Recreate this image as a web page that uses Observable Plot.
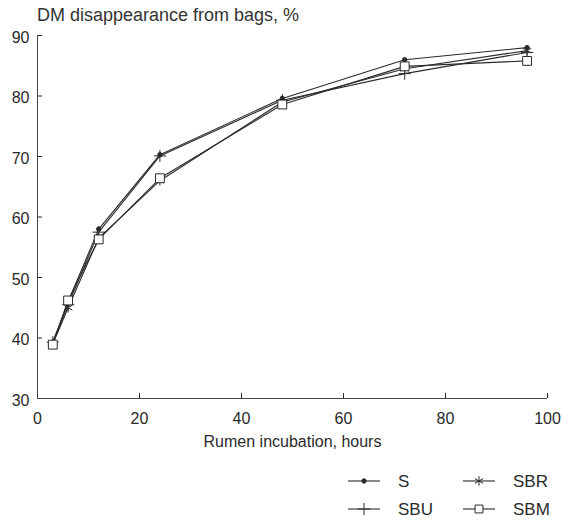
<!DOCTYPE html>
<html><head><meta charset="utf-8">
<script src="https://cdn.jsdelivr.net/npm/d3@7"></script>
<script src="https://cdn.jsdelivr.net/npm/@observablehq/plot@0.6"></script>
<style>
body{margin:0;background:#fff;font-family:"Liberation Sans",Arial,sans-serif;}
#wrap{position:relative;width:563px;height:522px;overflow:hidden;background:#fff;}
#title{position:absolute;left:37px;top:5px;font-size:18px;color:#333;white-space:nowrap;}
#wrap svg{position:absolute;left:0;top:0;}
</style></head><body>
<div id="wrap"><div id="chart"></div><div id="title">DM disappearance from bags, %</div></div>
<script>
// Data
const hours = [3, 6, 12, 24, 48, 72, 96];
const S   = [39.3, 46.0, 58.0, 70.3, 79.6, 86.0, 88.0];
const SBR = [39.0, 45.0, 56.5, 66.0, 79.0, 84.5, 87.5];
const SBU = [39.3, 45.5, 57.5, 70.1, 79.3, 83.7, 87.2];
const SBM = [38.9, 46.2, 56.3, 66.4, 78.6, 84.9, 85.8];
const seriesNames = ["S", "SBR", "SBU", "SBM"];
const seriesValues = [S, SBR, SBU, SBM];
const seriesSymbols = ["circle", "asterisk", "plus", "square"];
const xTicks = [0, 20, 40, 60, 80, 100];
const yTicks = [30, 40, 50, 60, 70, 80, 90];
const xLabel = "Rumen incubation, hours";

const ink = "#2a2a2a";
const rows = [];
seriesNames.forEach((name, i) => hours.forEach((h, j) => rows.push({series: name, hour: h, value: seriesValues[i][j]})));

const symStyle = {
  S: {r: 2.2, fill: ink, stroke: ink},
  SBR: {r: 4.5, fill: "none", stroke: ink},
  SBU: {r: 4, fill: "none", stroke: ink},
  SBM: {r: 5, fill: "white", stroke: ink}
};

const dotMarks = seriesNames.map((name, i) => Plot.dot(rows.filter(d => d.series === name), {
  x: "hour", y: "value", symbol: () => seriesSymbols[i],
  r: symStyle[name].r, fill: symStyle[name].fill, stroke: symStyle[name].stroke, strokeWidth: 1
}));

const chart = Plot.plot({
  width: 563, height: 522,
  marginLeft: 37, marginRight: 16, marginTop: 35, marginBottom: 124,
  style: {fontFamily: "'Liberation Sans', Arial, sans-serif", fontSize: "16px", color: "#2a2a2a", background: "transparent"},
  x: {domain: [0, 100]},
  y: {domain: [30, 90]},
  symbol: {type: "identity"},
  marks: [
    Plot.axisX({ticks: xTicks, tickSize: -5, tickPadding: 19, label: xLabel, labelAnchor: "center", labelArrow: "none", labelOffset: 48, fontSize: 16}),
    Plot.axisY({ticks: yTicks, tickSize: -5, tickFormat: () => "", label: null}),
    Plot.axisY({ticks: yTicks, tickSize: 0, tickPadding: 8, dy: 2, label: null, fontSize: 16}),
    Plot.ruleX([0], {stroke: "#444"}),
    Plot.ruleY([30], {stroke: "#444"}),
    ...seriesNames.map(name => Plot.line(rows.filter(d => d.series === name), {x: "hour", y: "value", stroke: ink, strokeWidth: 1.1})),
    ...dotMarks
  ]
});
document.getElementById("chart").appendChild(chart);

// Legend (layout only)
const lg = d3.select("#wrap").append("svg").attr("width", 563).attr("height", 522)
  .style("font-family", "'Liberation Sans', Arial, sans-serif").style("font-size", "17px");
const symMap = {circle: d3.symbolCircle, asterisk: d3.symbolAsterisk, plus: d3.symbolPlus, square: d3.symbolSquare2};
const colX = [348, 463], rowY = [481, 509];
seriesNames.forEach((name, i) => {
  const cx = colX[i % 2], cy = rowY[Math.floor(i / 2)];
  const g = lg.append("g").attr("transform", `translate(${cx},${cy})`);
  g.append("line").attr("x1", 0).attr("x2", 32).attr("stroke", ink).attr("stroke-width", 1.1);
  const st = symStyle[name];
  g.append("path").attr("transform", "translate(16,0)")
    .attr("d", d3.symbol(symMap[seriesSymbols[i]], Math.PI * st.r * st.r)())
    .attr("fill", st.fill).attr("stroke", st.stroke);
  g.append("text").attr("x", 50).attr("y", 6).attr("fill", "#2a2a2a").text(name);
});
</script>
</body></html>
